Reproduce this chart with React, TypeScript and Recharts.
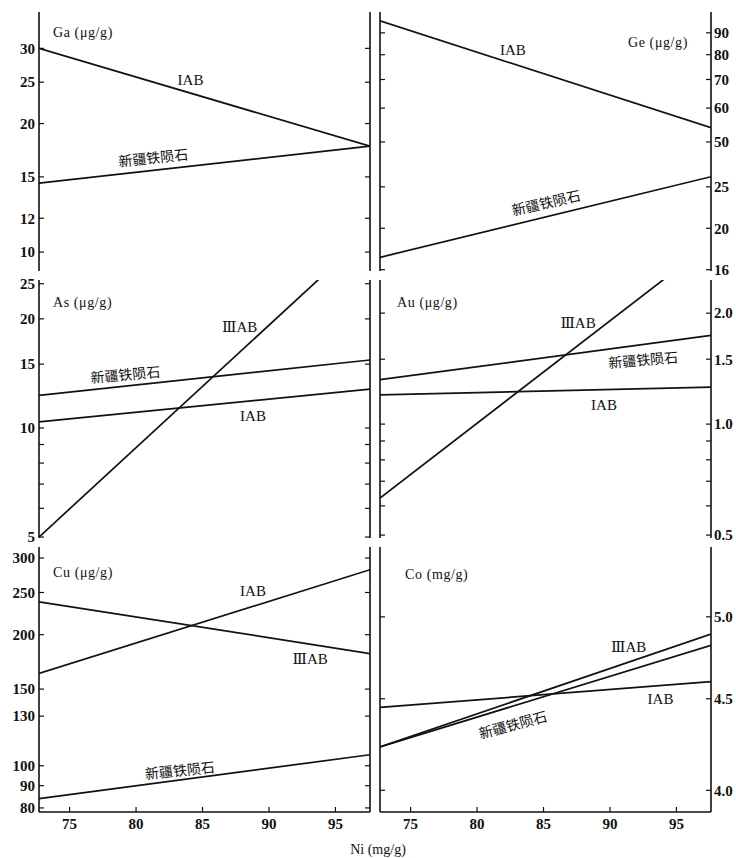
import { LineChart, Line, XAxis, YAxis, ReferenceDot } from 'recharts';

// Ni (mg/g) at the two ends of every fitted line
const niEnds = [72.7, 97.6];
const niTicks = [75, 80, 85, 90, 95];

const XJ = '新疆铁陨石';

// values at left / right end of each line
const gaIAB = [30.0, 17.7];
const gaXJ = [14.5, 17.7];
const geIAB = [96, 54];
const geXJ = [17.1, 26.4];
const asIIIAB = [5.0, 34.7];
const asIAB = [10.4, 12.8];
const asXJ = [12.3, 15.4];
const auIIIAB = [0.63, 3.1];
const auIAB = [1.2, 1.26];
const auXJ = [1.32, 1.74];
const cuIAB = [163, 282];
const cuIIIAB = [238, 181];
const cuXJ = [84, 106];
const coIAB = [4.45, 4.6];
const coIIIAB = [4.23, 4.89];
const coXJ = [4.23, 4.82];

// y ticks
const gaTicks = [10, 12, 15, 20, 25, 30];
const geTicks = [16, 20, 25, 50, 60, 70, 80, 90];
const asTicks = [5, 6, 7, 8, 9, 10, 15, 20, 25];
const asLabels = [5, 10, 15, 20, 25];
const auTicks = [0.5, 0.6, 0.7, 0.8, 0.9, 1.0, 1.5, 2.0];
const auLabels = [0.5, 1.0, 1.5, 2.0];
const cuTicks = [80, 90, 100, 130, 150, 200, 250, 300];
const coTicks = [4.0, 4.5, 5.0];

// Ge axis is broken between 25 and 50
const geShift = 0.196;
const geT = (v: number) => (v >= 40 ? Math.log10(v) : Math.log10(v) + geShift);

const NI_DOMAIN: [number, number] = [72.7, 97.6];
const ROW_TOP = [12, 280, 547];
const ROW_H = [259, 258, 265];
const M = 10; // room around each plot for edge labels
const COLS = [
  { left: 0, width: 375, leftW: 39, rightW: 5, main: 'left' },
  { left: 375, width: 361, leftW: 5, rightW: 25, main: 'right' },
];

const INK = '#111';
const SERIF = '"Liberation Serif", "DejaVu Serif", serif';
const CJK = '"Noto Sans CJK SC", sans-serif';
const tickFont = { fontSize: 15, fontFamily: SERIF, fill: INK, fontWeight: 'bold' };
const axisLine = { stroke: INK, strokeWidth: 1.6 };
const tickLine = { stroke: INK, strokeWidth: 1.2 };

type Series = { key: string; values: number[] };
type Note = { text: string; ni: number; v: number; angle?: number };

function Panel(p: any) {
  const c = COLS[p.col];
  const top = ROW_TOP[p.row];
  const h = ROW_H[p.row];
  const bottomRow = p.row === 2;
  const xh = bottomRow ? 30 : 0;
  const tf = p.tf ?? ((v: number) => v);
  const data = niEnds.map((ni, i) => {
    const o: any = { ni };
    p.series.forEach((s: Series) => (o[s.key] = tf(s.values[i])));
    return o;
  });
  const yTicks = p.ticks.map(tf);
  const labelled = p.labelled ?? p.ticks;
  const fmt = (t: number) => {
    const i = yTicks.findIndex((y: number) => Math.abs(y - t) < 1e-6);
    const v = p.ticks[i];
    if (i < 0 || !labelled.includes(v)) return '';
    return p.fmt ? p.fmt(v) : String(v);
  };
  const yCommon: any = {
    type: 'number',
    domain: p.domain,
    ticks: yTicks,
    scale: p.log ? 'log' : 'linear',
    allowDataOverflow: true,
    interval: 0,
    axisLine,
    tickLine,
    tickSize: -5,
    tick: tickFont,
  };
  const other = c.main === 'left' ? 'right' : 'left';
  return (
    <div style={{ position: 'absolute', left: c.left, top: top - M }}>
      <LineChart width={c.width} height={h + xh + 2 * M} data={data} margin={{ top: M, right: 0, bottom: M, left: 0 }}>
        <XAxis
          xAxisId="b"
          dataKey="ni"
          type="number"
          domain={NI_DOMAIN}
          ticks={niTicks}
          allowDataOverflow
          interval={0}
          height={xh}
          tickSize={-5}
          tickMargin={11}
          tickFormatter={bottomRow ? undefined : () => ''}
          tick={tickFont}
          axisLine={axisLine}
          tickLine={tickLine}
        />
        <XAxis
          xAxisId="t"
          orientation="top"
          dataKey="ni"
          type="number"
          domain={NI_DOMAIN}
          ticks={niTicks}
          allowDataOverflow
          interval={0}
          height={0}
          tickSize={-5}
          tickFormatter={() => ''}
          axisLine={axisLine}
          tickLine={tickLine}
        />
        <YAxis
          yAxisId="m"
          orientation={c.main}
          width={c.main === 'left' ? c.leftW : c.rightW}
          tickMargin={c.main === 'left' ? 9 : 8}
          tickFormatter={fmt}
          {...yCommon}
        />
        <YAxis
          yAxisId="o"
          orientation={other}
          width={other === 'left' ? c.leftW : c.rightW}
          tickFormatter={() => ''}
          {...yCommon}
        />
        {p.series.map((s: Series) => (
          <Line
            key={s.key}
            xAxisId="b"
            yAxisId="m"
            type="linear"
            dataKey={s.key}
            stroke={INK}
            strokeWidth={1.7}
            dot={false}
            isAnimationActive={false}
          />
        ))}
        {p.notes.map((n: Note, i: number) => (
          <ReferenceDot
            key={i}
            xAxisId="b"
            yAxisId="m"
            x={n.ni}
            y={tf(n.v)}
            r={0}
            fill="none"
            stroke="none"
            ifOverflow="visible"
            label={{
              value: n.text,
              position: 'center',
              angle: n.angle ?? 0,
              fontSize: n.text === XJ ? 14 : 15,
              fontFamily: n.text === XJ ? CJK : SERIF,
              fill: INK,
            }}
          />
        ))}
      </LineChart>
    </div>
  );
}

const panels = [
  {
    col: 0, row: 0, log: true, domain: [9.03, 36.5], ticks: gaTicks,
    title: 'Ga (μg/g)', titleAt: [53, 33],
    series: [{ key: 'IAB', values: gaIAB }, { key: 'XJ', values: gaXJ }],
    notes: [
      { text: 'IAB', ni: 84.1, v: 25.3 },
      { text: XJ, ni: 81.3, v: 16.6, angle: -6 },
    ],
  },
  {
    col: 1, row: 0, tf: geT, domain: [1.397, 2.003], ticks: geTicks,
    title: 'Ge (μg/g)', titleAt: [628, 43],
    series: [{ key: 'IAB', values: geIAB }, { key: 'XJ', values: geXJ }],
    notes: [
      { text: 'IAB', ni: 82.7, v: 82 },
      { text: XJ, ni: 85.2, v: 22.9, angle: -13 },
    ],
  },
  {
    col: 0, row: 1, log: true, domain: [4.97, 25.6], ticks: asTicks, labelled: asLabels,
    title: 'As (μg/g)', titleAt: [53, 303],
    series: [{ key: 'III', values: asIIIAB }, { key: 'IAB', values: asIAB }, { key: 'XJ', values: asXJ }],
    notes: [
      { text: 'ⅢAB', ni: 87.8, v: 19.0 },
      { text: XJ, ni: 79.2, v: 14.0, angle: -5 },
      { text: 'IAB', ni: 88.8, v: 10.8 },
    ],
  },
  {
    col: 1, row: 1, log: true, domain: [0.491, 2.46], ticks: auTicks, labelled: auLabels,
    fmt: (v: number) => v.toFixed(1),
    title: 'Au (μg/g)', titleAt: [397, 303],
    series: [{ key: 'III', values: auIIIAB }, { key: 'IAB', values: auIAB }, { key: 'XJ', values: auXJ }],
    notes: [
      { text: 'ⅢAB', ni: 87.6, v: 1.89 },
      { text: XJ, ni: 92.5, v: 1.49, angle: -5 },
      { text: 'IAB', ni: 89.55, v: 1.13 },
    ],
  },
  {
    col: 0, row: 2, log: true, domain: [78.3, 318], ticks: cuTicks,
    title: 'Cu (μg/g)', titleAt: [53, 573],
    series: [{ key: 'IAB', values: cuIAB }, { key: 'III', values: cuIIIAB }, { key: 'XJ', values: cuXJ }],
    notes: [
      { text: 'IAB', ni: 88.8, v: 253 },
      { text: 'ⅢAB', ni: 93.1, v: 176 },
      { text: XJ, ni: 83.3, v: 97.4, angle: -6 },
    ],
  },
  {
    col: 1, row: 2, log: true, domain: [3.89, 5.47], ticks: coTicks,
    fmt: (v: number) => v.toFixed(1),
    title: 'Co (mg/g)', titleAt: [405, 575],
    series: [{ key: 'IAB', values: coIAB }, { key: 'III', values: coIIIAB }, { key: 'XJ', values: coXJ }],
    notes: [
      { text: 'ⅢAB', ni: 91.4, v: 4.81 },
      { text: 'IAB', ni: 93.8, v: 4.5 },
      { text: XJ, ni: 82.7, v: 4.35, angle: -15 },
    ],
  },
];

export default function App() {
  return (
    <div style={{ position: 'absolute', left: 0, top: 0, width: 736, height: 858, background: '#fff' }}>
      {panels.map((p, i) => (
        <Panel key={i} {...p} />
      ))}
      {panels.map((p, i) => (
        <div
          key={'t' + i}
          style={{
            position: 'absolute',
            left: p.titleAt[0],
            top: p.titleAt[1] - 9,
            fontFamily: SERIF,
            fontSize: 14,
            letterSpacing: 0.6,
            color: INK,
            lineHeight: '18px',
            whiteSpace: 'nowrap',
          }}
        >
          {p.title}
        </div>
      ))}
      <div
        style={{
          position: 'absolute',
          left: 330,
          top: 841,
          width: 96,
          textAlign: 'center',
          fontFamily: SERIF,
          fontSize: 14,
          color: INK,
          lineHeight: '18px',
        }}
      >
        Ni (mg/g)
      </div>
    </div>
  );
}
